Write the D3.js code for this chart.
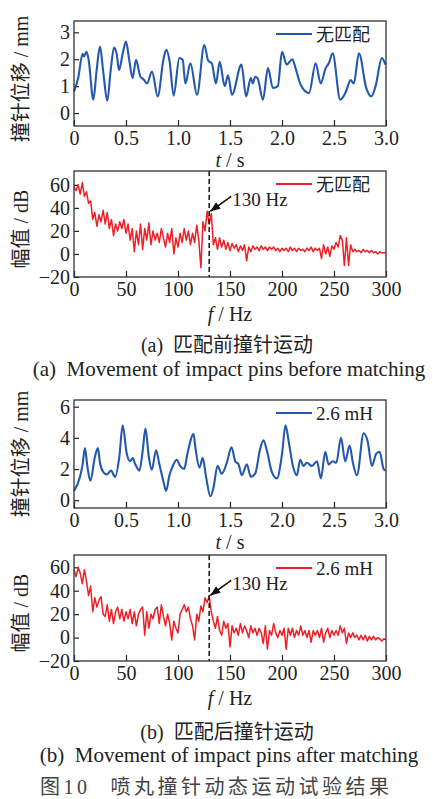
<!DOCTYPE html>
<html>
<head>
<meta charset="utf-8">
<script src="https://cdn.jsdelivr.net/npm/d3@7"></script>
<style>
  body { margin: 0; background: #fff; }
  svg { display: block; }
</style>
</head>
<body>
<div id="app"></div>
<script>
// ---- data ----
// (a) displacement, no matching
const timeA = [0, 0.04, 0.083, 0.096, 0.12, 0.14, 0.186, 0.218, 0.25, 0.282, 0.32, 0.353, 0.385, 0.41, 0.433,
  0.468, 0.5, 0.53, 0.564, 0.596, 0.638, 0.67, 0.702, 0.75, 0.805, 0.862, 0.888, 0.92, 0.958, 1.013,
  1.045, 1.071, 1.119, 1.183, 1.253, 1.29, 1.325, 1.365, 1.401, 1.449, 1.481, 1.519, 1.61, 1.655,
  1.7, 1.72, 1.742, 1.765, 1.817, 1.865, 1.913, 1.96, 2.0, 2.045, 2.1, 2.13, 2.18, 2.26, 2.324, 2.372,
  2.42, 2.45, 2.487, 2.56, 2.615, 2.66, 2.69, 2.74, 2.81, 2.86, 2.9, 2.96, 2.995];
const dispA = [0.8, 1.3, 2.2, 2.1, 2.28, 2.0, 0.5, 1.6, 2.47, 1.5, 0.46, 1.6, 2.43, 2.2, 1.6,
  2.2, 2.66, 2.0, 1.3, 1.98, 1.36, 1.25, 1.1, 1.54, 0.62, 2.04, 2.35, 1.9, 0.65, 2.04,
  1.98, 1.1, 1.85, 0.68, 2.53, 1.95, 1.85, 1.1, 1.9, 1.0, 1.4, 0.68, 1.8, 0.62,
  1.3, 1.1, 1.35, 1.3, 0.5, 1.67, 0.93, 1.0, 2.28, 1.8, 2.0, 1.67, 1.05, 0.74, 1.85, 1.1,
  1.67, 1.85, 2.22, 0.5, 0.8, 1.23, 1.1, 2.22, 0.93, 0.62, 1.0, 2.04, 1.8];

// (b) displacement, 2.6 mH
const timeB = [0, 0.058, 0.083, 0.105, 0.128, 0.157, 0.202, 0.23, 0.25, 0.282, 0.314, 0.356, 0.395, 0.436,
  0.468, 0.507, 0.539, 0.565, 0.587, 0.629, 0.661, 0.687, 0.719, 0.748, 0.789, 0.821, 0.86, 0.885,
  0.918, 0.95, 0.988, 1.02, 1.059, 1.091, 1.15, 1.165, 1.206, 1.238, 1.27, 1.311, 1.341, 1.38, 1.421,
  1.469, 1.515, 1.55, 1.582, 1.614, 1.662, 1.7, 1.742, 1.79, 1.822, 1.854, 1.903, 1.951, 1.999, 2.034,
  2.066, 2.105, 2.143, 2.175, 2.207, 2.239, 2.287, 2.336, 2.374, 2.416, 2.448, 2.49, 2.522, 2.567,
  2.608, 2.65, 2.682, 2.721, 2.785, 2.823, 2.865, 2.907, 2.939, 2.977, 2.995];
const dispB = [0.6, 1.5, 2.3, 3.35, 2.2, 1.25, 2.8, 3.35, 2.4, 1.8, 1.65, 1.9, 1.5, 2.8,
  4.8, 3.0, 2.5, 2.7, 2.35, 1.9, 3.2, 4.6, 2.8, 1.95, 3.2, 2.3, 1.2, 0.6,
  1.6, 2.2, 2.6, 2.2, 2.0, 3.0, 4.25, 3.5, 2.1, 2.7, 1.5, 0.25, 0.8, 2.2, 1.7,
  2.4, 3.4, 2.5, 2.3, 1.6, 2.3, 1.5, 1.7, 3.3, 3.85, 3.2, 1.8, 1.4, 2.9, 4.8,
  3.7, 2.2, 1.6, 2.6, 2.2, 2.4, 2.2, 2.5, 1.4, 3.1, 2.3, 2.5, 2.4, 4.0,
  2.5, 3.5, 2.4, 1.6, 4.3, 3.8, 2.2, 3.0, 3.1, 2.0, 1.9];

// spectra, one value every 2 Hz from 0 to 300 Hz
const freqStep = 2;
const specA = [58, 55, 60, 52, 62, 50, 54, 44, 46, 30,
  36, 24, 34, 28, 38, 26, 36, 22, 30, 16,
  26, 20, 28, 22, 30, 18, 26, 12, 22, 2,
  20, 8, 26, 4, 22, 12, 27, 8, 20, 12,
  18, 10, 22, 14, 6, 18, 10, 22, 0, 14,
  6, 18, 10, 22, 12, 20, 8, 18, 10, 25,
  12, -12, 28, 20, 37, 26, 35, 8, 14, 4,
  14, 6, 12, 4, 10, 3, 9, 5, 8, 2,
  7, 3, 8, -6, 6, 2, 7, 4, 6, 3,
  7, 4, 6, 3, 6, 4, 6, 3, 5, 2,
  5, 3, 5, 2, 6, 3, 5, 2, 5, 3,
  4, 2, 5, 3, 6, 2, 5, 3, 5, -4,
  8, 0, 6, -2, 7, 4, 10, 6, 16, 12,
  -10, 14, -10, 8, 2, 4, 2, 3, 1, 4,
  2, 3, 1, 3, 1, 2, 0, 2, 1, 1,
  1];
const specB = [58, 52, 60, 55, 46, 58, 48, 36, 44, 22,
  34, 26, 32, 35, 20, 18, 28, 14, 24, 12,
  22, 26, 16, 24, 14, 22, 16, 24, 12, 22,
  10, 20, 24, 26, 2, 22, 8, 20, 16, 24,
  26, 12, 28, 18, 10, 20, 12, -2, 14, 8,
  4, 20, 24, 28, 22, 26, 16, 10, -2, 20,
  14, 27, 22, 34, 30, 35, 22, 14, 8, 18,
  6, 2, 14, 8, 12, -8, 10, 4, 8, 2,
  12, 4, 10, 6, 0, 10, 4, 8, 2, 8,
  4, -5, 10, -10, 6, 2, 12, 4, 0, 6,
  2, 8, -10, 8, 2, 8, 0, 6, 2, 10,
  2, 6, 0, 6, -4, 6, 2, 6, 0, 8,
  -4, 4, 8, 0, 6, 2, 6, 2, 10, 4,
  8, -5, 4, 0, 4, 0, 2, -2, 2, -2,
  2, -3, 1, -2, 1, -2, 0, -1, -3, -1,
  -2];

const timeTicks = [0, 0.5, 1.0, 1.5, 2.0, 2.5, 3.0];
const freqTicks = [0, 50, 100, 150, 200, 250, 300];
const dispTicksA = [0, 1, 2, 3];
const dispTicksB = [0, 2, 4, 6];
const specTicks = [-20, 0, 20, 40, 60];
const markFreq = 130;

// ---- drawing ----
const W = 433, H = 799;
const serif = "'Liberation Serif', 'Times New Roman', serif";
const cjk = "'Noto Sans CJK SC', sans-serif";
const ink = "#222";
const blue = "#2458ae";
const red = "#ee1f26";

const svg = d3.select("#app").append("svg")
  .attr("width", W)
  .attr("height", H);

svg.append("defs").append("marker")
  .attr("id", "arrow")
  .attr("viewBox", "0 0 10 8")
  .attr("refX", 10).attr("refY", 4)
  .attr("markerWidth", 11).attr("markerHeight", 8)
  .attr("markerUnits", "userSpaceOnUse")
  .attr("orient", "auto")
  .append("path")
  .attr("d", "M0,0 L10,4 L0,8 Z")
  .attr("fill", "#111");

function panel(o) {
  const left = 74, right = 386;
  const x = d3.scaleLinear().domain(o.xDomain).range([left, right]);
  const y = d3.scaleLinear().domain(o.yDomain).range([o.bottom, o.top]);
  const g = svg.append("g");

  const fmtX = o.xFmt || d3.format("d");
  g.append("g")
    .attr("transform", "translate(0," + o.bottom + ")")
    .call(d3.axisBottom(x).tickValues(o.xTicks).tickFormat(fmtX)
      .tickSizeInner(-6).tickSizeOuter(0).tickPadding(5));
  g.append("g")
    .attr("transform", "translate(" + left + ",0)")
    .call(d3.axisLeft(y).tickValues(o.yTicks).tickFormat(d3.format("d"))
      .tickSizeInner(-5).tickSizeOuter(0).tickPadding(4));

  g.selectAll(".domain").remove();
  g.selectAll(".tick line").attr("stroke", ink).attr("stroke-width", 1.2);
  g.selectAll(".tick text")
    .attr("font-family", serif)
    .attr("font-size", 20)
    .attr("fill", ink);

  const line = d3.line()
    .x((d, i) => x(o.xs[i]))
    .y(d => y(d))
    .curve(o.curve);
  g.append("path")
    .datum(o.ys)
    .attr("d", line)
    .attr("fill", "none")
    .attr("stroke", o.color)
    .attr("stroke-width", o.lw)
    .attr("stroke-linejoin", "round");

  if (o.mark) {
    g.append("line")
      .attr("x1", x(markFreq)).attr("x2", x(markFreq))
      .attr("y1", o.top).attr("y2", o.bottom)
      .attr("stroke", "#111")
      .attr("stroke-width", 1.5)
      .attr("stroke-dasharray", "5,3");
    const tx = x(markFreq + 1), ty = y(o.markY);
    g.append("line")
      .attr("x1", tx + 21).attr("y1", ty - 15)
      .attr("x2", tx).attr("y2", ty)
      .attr("stroke", "#111")
      .attr("stroke-width", 1.6)
      .attr("marker-end", "url(#arrow)");
    g.append("text")
      .attr("x", tx + 22).attr("y", ty - 5)
      .attr("font-family", serif)
      .attr("font-size", 19)
      .attr("fill", ink)
      .text(markFreq + " Hz");
  }

  // frame
  g.append("rect")
    .attr("x", left).attr("y", o.top)
    .attr("width", right - left).attr("height", o.bottom - o.top)
    .attr("fill", "none")
    .attr("stroke", "#333")
    .attr("stroke-width", 1.3);

  // legend
  const ly = o.top + 13;
  g.append("line")
    .attr("x1", 276).attr("x2", 312)
    .attr("y1", ly).attr("y2", ly)
    .attr("stroke", o.color)
    .attr("stroke-width", 2);
  g.append("text")
    .attr("x", 316).attr("y", ly + 6.5)
    .attr("font-family", o.legendCjk ? cjk : serif)
    .attr("font-size", o.legendCjk ? 18 : 19)
    .attr("fill", ink)
    .text(o.legend);

  // y label
  const yl = g.append("text")
    .attr("transform", "translate(28," + o.ylabelY + ") rotate(-90)")
    .attr("text-anchor", "middle")
    .attr("font-size", 20)
    .attr("fill", ink);
  yl.append("tspan").attr("font-family", cjk).text(o.ylabel[0]);
  yl.append("tspan").attr("font-family", serif).text(" / " + o.ylabel[1]);

  // x label
  const xl = g.append("text")
    .attr("x", 230).attr("y", o.bottom + o.xlabelDy)
    .attr("text-anchor", "middle")
    .attr("font-family", serif)
    .attr("font-size", 20)
    .attr("fill", ink);
  xl.append("tspan").attr("font-style", "italic").text(o.xlabel[0]);
  xl.append("tspan").text(" / " + o.xlabel[1]);
}

const fmtTime = d => d === 0 ? "0" : d3.format(".1f")(d);
const freqA = specA.map((d, i) => i * freqStep);
const freqB = specB.map((d, i) => i * freqStep);

panel({ top: 21, bottom: 126, xDomain: [0, 3], yDomain: [-0.48, 3.42],
  xTicks: timeTicks, yTicks: dispTicksA, xFmt: fmtTime, xs: timeA, ys: dispA,
  color: blue, lw: 2.1, curve: d3.curveMonotoneX, legend: "无匹配", legendCjk: true,
  ylabel: ["撞针位移", "mm"], ylabelY: 79, xlabel: ["t", "s"], xlabelDy: 41 });

panel({ top: 171, bottom: 277, xDomain: [0, 300], yDomain: [-20, 72],
  xTicks: freqTicks, yTicks: specTicks, xs: freqA, ys: specA,
  color: red, lw: 1.5, curve: d3.curveLinear, legend: "无匹配", legendCjk: true,
  ylabel: ["幅值", "dB"], ylabelY: 229, xlabel: ["f", "Hz"], xlabelDy: 44,
  mark: true, markY: 37 });

panel({ top: 400, bottom: 508, xDomain: [0, 3], yDomain: [-0.5, 6.43],
  xTicks: timeTicks, yTicks: dispTicksB, xFmt: fmtTime, xs: timeB, ys: dispB,
  color: blue, lw: 2.1, curve: d3.curveMonotoneX, legend: "2.6 mH", legendCjk: false,
  ylabel: ["撞针位移", "mm"], ylabelY: 454, xlabel: ["t", "s"], xlabelDy: 41 });

panel({ top: 555, bottom: 661, xDomain: [0, 300], yDomain: [-20, 70.5],
  xTicks: freqTicks, yTicks: specTicks, xs: freqB, ys: specB,
  color: red, lw: 1.5, curve: d3.curveLinear, legend: "2.6 mH", legendCjk: false,
  ylabel: ["幅值", "dB"], ylabelY: 613, xlabel: ["f", "Hz"], xlabelDy: 44,
  mark: true, markY: 36 });

// captions
function caption(yPos, tag, cn) {
  const t = svg.append("text")
    .attr("x", 227).attr("y", yPos)
    .attr("text-anchor", "middle")
    .attr("font-size", 20)
    .attr("fill", ink)
    .attr("xml:space", "preserve");
  t.append("tspan").attr("font-family", serif).text(tag + "  ");
  t.append("tspan").attr("font-family", cjk).text(cn);
}
caption(352, "(a)", "匹配前撞针运动");
caption(739, "(b)", "匹配后撞针运动");

svg.append("text")
  .attr("x", 229).attr("y", 376)
  .attr("text-anchor", "middle")
  .attr("font-family", serif)
  .attr("font-size", 21)
  .attr("fill", ink)
  .attr("xml:space", "preserve")
  .text("(a)  Movement of impact pins before matching");
svg.append("text")
  .attr("x", 229).attr("y", 762)
  .attr("text-anchor", "middle")
  .attr("font-family", serif)
  .attr("font-size", 21)
  .attr("fill", ink)
  .attr("xml:space", "preserve")
  .text("(b)  Movement of impact pins after matching");

const fig = svg.append("text")
  .attr("x", 40).attr("y", 794)
  .attr("font-size", 20)
  .attr("fill", "#444")
  .attr("letter-spacing", 3.5)
  .attr("font-family", cjk);
fig.append("tspan").text("图");
fig.append("tspan").attr("font-family", serif).text("10");
fig.append("tspan").attr("dx", 20).text("喷丸撞针动态运动试验结果");
</script>
</body>
</html>
